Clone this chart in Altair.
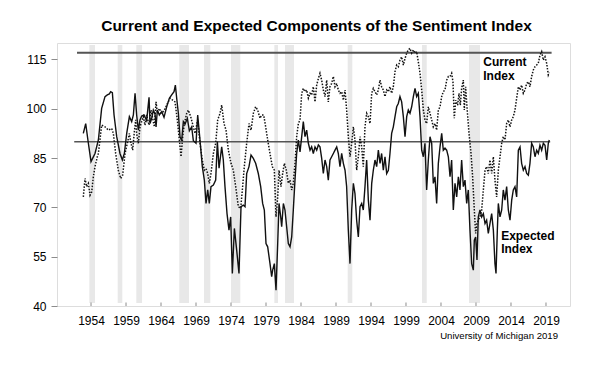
import altair as alt
import pandas as pd

# Expected Index (solid line)
exp_years = [1952.90, 1953.24, 1953.62, 1954.00, 1954.57, 1955.05, 1955.52, 1956.00, 1956.33, 1956.62,
             1956.81, 1957.05, 1957.29, 1957.67, 1958.14, 1958.48, 1958.76, 1959.10, 1959.48, 1959.81,
             1960.05, 1960.29, 1960.52, 1960.76, 1961.00, 1961.24, 1961.57, 1961.95, 1962.29, 1962.43,
             1962.67, 1962.90, 1963.14, 1963.29, 1963.48, 1963.76, 1964.10, 1964.43, 1964.81, 1965.19,
             1965.52, 1965.86, 1966.05, 1966.24, 1966.48, 1966.71, 1966.95, 1967.19, 1967.43, 1967.76,
             1968.05, 1968.38, 1968.62, 1969.00, 1969.24, 1969.57, 1969.90, 1970.19, 1970.43, 1970.67,
             1970.90, 1971.14, 1971.48, 1971.81, 1972.05, 1972.29, 1972.67, 1972.90, 1973.14, 1973.43,
             1973.71, 1973.95, 1974.19, 1974.48, 1974.81, 1975.14, 1975.43, 1975.76, 1976.00, 1976.24,
             1976.57, 1976.86, 1977.19, 1977.52, 1977.90, 1978.24, 1978.52, 1978.76, 1979.00, 1979.24,
             1979.57, 1979.81, 1979.95, 1980.19, 1980.43, 1980.67, 1980.86, 1981.10, 1981.24, 1981.48,
             1981.71, 1981.95, 1982.19, 1982.43, 1982.67, 1982.90, 1983.14, 1983.38, 1983.62, 1983.86,
             1984.10, 1984.33, 1984.57, 1984.81, 1985.05, 1985.29, 1985.52, 1985.76, 1986.00, 1986.24,
             1986.48, 1986.71, 1986.95, 1987.19, 1987.43, 1987.67, 1987.90, 1988.14, 1988.38, 1988.62,
             1988.86, 1989.10, 1989.33, 1989.57, 1989.81, 1990.05, 1990.29, 1990.52, 1990.76, 1991.00,
             1991.24, 1991.48, 1991.71, 1991.95, 1992.19, 1992.43, 1992.67, 1992.90, 1993.14, 1993.38,
             1993.62, 1993.86, 1994.10, 1994.33, 1994.57, 1994.81, 1995.05, 1995.29, 1995.52, 1995.76,
             1996.00, 1996.24, 1996.48, 1996.71, 1996.95, 1997.19, 1997.43, 1997.67, 1997.90, 1998.14,
             1998.38, 1998.62, 1998.86, 1999.10, 1999.33, 1999.57, 1999.81, 2000.05, 2000.29, 2000.52,
             2000.76, 2001.00, 2001.24, 2001.48, 2001.71, 2001.95, 2002.19, 2002.43, 2002.67, 2002.90,
             2003.14, 2003.38, 2003.62, 2003.86, 2004.10, 2004.33, 2004.57, 2004.81, 2005.05, 2005.29,
             2005.52, 2005.76, 2006.00, 2006.24, 2006.48, 2006.71, 2006.95, 2007.19, 2007.43, 2007.67,
             2007.90, 2008.14, 2008.38, 2008.62, 2008.76, 2008.95, 2009.14, 2009.33, 2009.57, 2009.81,
             2010.05, 2010.29, 2010.52, 2010.76, 2011.00, 2011.24, 2011.48, 2011.71, 2011.86, 2012.05,
             2012.19, 2012.43, 2012.67, 2012.90, 2013.14, 2013.38, 2013.62, 2013.86, 2014.10, 2014.33,
             2014.57, 2014.81, 2015.05, 2015.29, 2015.52, 2015.76, 2016.00, 2016.24, 2016.48, 2016.71,
             2016.95, 2017.19, 2017.43, 2017.67, 2017.90, 2018.14, 2018.38, 2018.62, 2018.86, 2019.10,
             2019.33, 2019.47]
exp_vals = [92.5, 95.5, 89.5, 83.9, 86.4, 90.5, 100.1, 103.7, 104.2, 104.5,
            105.2, 104.9, 98.1, 91.5, 86.4, 84.4, 86.4, 92.5, 97.6, 96.1,
            98.1, 104.7, 98.1, 93.5, 96.6, 97.8, 98.1, 96.4, 103.5, 95.5,
            97.1, 99.6, 98.4, 94.5, 99.6, 98.1, 99.1, 97.4, 100.6, 103.2,
            104.2, 105.2, 107.2, 103.2, 98.6, 91.5, 90.3, 96.1, 95.3, 97.1,
            93.3, 94.5, 90.3, 89.5, 98.1, 90.5, 82.4, 78.3, 71.2, 75.3,
            71.2, 76.3, 76.8, 78.3, 90.0, 81.9, 88.4, 84.4, 76.3, 68.1,
            63.1, 67.1, 49.9, 63.6, 57.0, 49.9, 70.2, 70.7, 70.2, 80.3,
            82.4, 85.9, 84.9, 83.4, 80.3, 76.3, 71.2, 69.2, 59.0, 58.0,
            52.9, 48.9, 50.9, 52.9, 44.8, 59.0, 71.2, 67.1, 64.1, 71.2,
            69.2, 64.1, 59.0, 58.0, 61.0, 69.2, 78.3, 86.4, 90.5, 86.9,
            91.5, 96.1, 91.5, 93.5, 89.5, 87.4, 88.4, 86.4, 88.4, 87.4,
            89.0, 88.4, 85.0, 80.3, 84.4, 82.4, 78.3, 84.4, 85.4, 86.4,
            87.4, 88.4, 86.4, 82.4, 86.4, 83.4, 81.3, 76.3, 63.1, 52.9,
            69.2, 77.3, 74.2, 66.1, 61.0, 70.2, 71.2, 69.2, 76.3, 84.4,
            72.2, 66.1, 77.3, 81.3, 84.4, 82.4, 87.4, 83.4, 86.4, 81.3,
            85.4, 80.3, 81.3, 86.4, 92.5, 94.5, 97.6, 100.6, 101.6, 103.7,
            102.1, 97.6, 91.5, 97.6, 99.6, 98.6, 100.6, 103.7, 106.2, 103.7,
            104.7, 97.6, 87.4, 85.4, 89.5, 75.3, 84.4, 91.5, 89.5, 77.3,
            79.3, 71.2, 83.4, 88.4, 92.5, 87.4, 88.0, 87.4, 85.4, 79.3,
            84.4, 69.2, 77.3, 73.2, 79.3, 75.3, 84.4, 76.3, 78.3, 71.2,
            75.3, 63.1, 52.9, 50.9, 60.0, 61.0, 54.0, 67.1, 69.2, 67.1,
            68.1, 65.1, 66.1, 62.1, 65.1, 68.1, 63.1, 52.9, 49.9, 63.1,
            71.2, 67.1, 69.2, 75.3, 72.2, 76.3, 69.2, 66.1, 72.2, 75.3,
            76.3, 73.2, 87.4, 88.4, 83.4, 81.3, 82.4, 80.3, 79.8, 83.4,
            89.5, 88.4, 85.4, 87.4, 86.4, 88.9, 87.4, 89.5, 88.9, 84.4,
            89.5, 90.5]

# Current Index (dotted line)
cur_years = [1952.90, 1953.14, 1953.38, 1953.62, 1953.86, 1954.10, 1954.33, 1954.57, 1954.90, 1955.05,
             1955.52, 1956.00, 1956.48, 1956.95, 1957.19, 1957.52, 1957.90, 1958.24, 1958.52, 1958.86,
             1959.19, 1959.48, 1959.71, 1959.95, 1960.19, 1960.38, 1960.52, 1960.76, 1961.00, 1961.24,
             1961.48, 1961.71, 1961.95, 1962.29, 1962.57, 1962.81, 1963.05, 1963.29, 1963.48, 1963.76,
             1964.10, 1964.48, 1964.81, 1965.29, 1965.67, 1966.00, 1966.33, 1966.62, 1966.86, 1967.10,
             1967.33, 1967.67, 1967.90, 1968.24, 1968.62, 1968.86, 1969.24, 1969.57, 1969.90, 1970.19,
             1970.43, 1970.67, 1970.90, 1971.14, 1971.48, 1971.81, 1972.10, 1972.43, 1972.67, 1973.00,
             1973.29, 1973.62, 1974.00, 1974.33, 1974.67, 1975.05, 1975.38, 1975.62, 1975.90, 1976.24,
             1976.57, 1976.86, 1977.19, 1977.52, 1977.81, 1978.14, 1978.38, 1978.67, 1978.95, 1979.24,
             1979.57, 1979.90, 1980.19, 1980.43, 1980.67, 1980.86, 1981.14, 1981.38, 1981.62, 1981.90,
             1982.19, 1982.43, 1982.67, 1982.90, 1983.14, 1983.38, 1983.62, 1983.86, 1984.10, 1984.33,
             1984.57, 1984.81, 1985.05, 1985.29, 1985.52, 1985.76, 1986.00, 1986.24, 1986.48, 1986.71,
             1986.95, 1987.19, 1987.43, 1987.67, 1987.90, 1988.14, 1988.38, 1988.62, 1988.86, 1989.10,
             1989.33, 1989.57, 1989.81, 1990.05, 1990.29, 1990.52, 1990.76, 1991.00, 1991.24, 1991.48,
             1991.71, 1991.95, 1992.19, 1992.43, 1992.67, 1992.90, 1993.14, 1993.38, 1993.62, 1993.86,
             1994.10, 1994.33, 1994.57, 1994.81, 1995.05, 1995.29, 1995.52, 1995.76, 1996.00, 1996.24,
             1996.48, 1996.71, 1996.95, 1997.19, 1997.43, 1997.67, 1997.90, 1998.14, 1998.38, 1998.62,
             1998.86, 1999.10, 1999.33, 1999.57, 1999.81, 2000.05, 2000.29, 2000.52, 2000.76, 2001.00,
             2001.24, 2001.48, 2001.71, 2001.95, 2002.19, 2002.43, 2002.67, 2002.90, 2003.14, 2003.38,
             2003.62, 2003.86, 2004.10, 2004.33, 2004.57, 2004.81, 2005.05, 2005.29, 2005.52, 2005.71,
             2005.90, 2006.10, 2006.38, 2006.57, 2006.76, 2006.95, 2007.19, 2007.33, 2007.52, 2007.71,
             2008.00, 2008.29, 2008.52, 2008.76, 2008.95, 2009.14, 2009.33, 2009.57, 2009.81, 2010.05,
             2010.29, 2010.52, 2010.76, 2011.00, 2011.24, 2011.48, 2011.71, 2011.95, 2012.19, 2012.43,
             2012.67, 2012.90, 2013.14, 2013.38, 2013.62, 2013.86, 2014.10, 2014.33, 2014.57, 2014.81,
             2015.05, 2015.29, 2015.52, 2015.76, 2016.00, 2016.24, 2016.48, 2016.71, 2016.95, 2017.19,
             2017.43, 2017.67, 2017.90, 2018.14, 2018.38, 2018.62, 2018.86, 2019.10, 2019.33, 2019.47]
cur_vals = [73.2, 78.8, 76.3, 77.3, 73.7, 74.7, 79.3, 82.4, 85.4, 86.4,
            95.0, 94.5, 93.5, 94.0, 92.5, 86.4, 81.3, 78.8, 79.8, 86.4,
            89.5, 92.5, 89.5, 87.4, 93.0, 96.6, 92.5, 89.5, 94.5, 96.1,
            97.6, 95.0, 98.1, 95.0, 99.6, 97.1, 94.5, 102.1, 98.6, 100.1,
            98.6, 99.6, 101.1, 103.2, 102.6, 102.1, 96.6, 90.5, 85.4, 91.5,
            95.5, 98.6, 99.6, 97.6, 94.5, 92.5, 96.6, 89.5, 84.4, 81.3,
            81.8, 80.3, 77.3, 80.3, 86.4, 89.5, 96.6, 98.6, 101.1, 95.5,
            93.5, 87.4, 83.4, 81.3, 76.3, 70.2, 69.7, 75.3, 82.4, 89.5,
            95.5, 93.5, 98.6, 100.6, 99.6, 97.1, 98.1, 98.1, 94.5, 90.5,
            86.4, 82.4, 81.3, 67.1, 73.2, 81.3, 76.3, 80.3, 83.4, 81.3,
            77.3, 78.3, 75.3, 77.3, 83.4, 91.5, 95.5, 96.6, 104.7, 106.2,
            105.2, 105.7, 103.2, 104.7, 104.2, 106.7, 102.1, 107.2, 109.2, 110.8,
            108.7, 105.7, 103.7, 108.7, 102.1, 106.7, 107.7, 109.8, 106.7, 107.7,
            105.7, 104.7, 105.2, 102.6, 105.7, 99.6, 91.5, 85.4, 89.5, 94.5,
            90.5, 81.3, 85.4, 91.5, 88.4, 82.4, 94.5, 98.6, 97.6, 95.5,
            104.7, 106.2, 105.2, 104.2, 105.7, 108.7, 106.7, 105.7, 103.7, 105.7,
            105.2, 106.7, 104.7, 106.7, 111.3, 113.3, 112.8, 114.8, 115.8, 113.3,
            115.3, 116.9, 117.9, 118.4, 116.9, 117.9, 116.9, 117.4, 114.3, 110.8,
            105.7, 99.6, 96.6, 95.5, 100.6, 98.6, 96.6, 94.5, 95.5, 93.5,
            99.6, 100.6, 103.7, 105.2, 105.7, 108.7, 109.8, 109.8, 110.8, 108.2,
            97.1, 102.6, 101.1, 104.7, 101.1, 106.2, 108.7, 99.6, 106.7, 100.6,
            92.5, 86.4, 79.3, 69.2, 62.1, 65.1, 66.1, 67.1, 69.2, 75.3,
            81.3, 82.4, 80.3, 84.4, 80.3, 85.4, 78.3, 73.2, 81.3, 85.4,
            89.5, 91.5, 90.5, 95.5, 96.6, 94.5, 96.6, 97.6, 99.6, 103.2,
            106.7, 105.7, 107.2, 104.7, 105.7, 107.7, 108.2, 106.7, 109.8, 111.8,
            112.8, 113.3, 113.8, 116.3, 117.4, 114.8, 115.8, 113.8, 110.3, 111.0]

# Recession shading (start / end, in years)
rec_start = [1953.76, 1957.81, 1960.47, 1966.61, 1970.14, 1974.00, 1980.19, 1981.71, 1990.67, 2001.29, 2008.00]
rec_end = [1954.57, 1958.47, 1961.29, 1968.00, 1971.04, 1975.33, 1980.71, 1983.00, 1991.33, 2001.96, 2009.57]

# Horizontal reference lines
ref_levels = [117, 90]
ref_start = [1952.0, 1951.6]
ref_end = [2019.8, 2019.6]

x_ticks = [1954, 1959, 1964, 1969, 1974, 1979, 1984, 1989, 1994, 1999, 2004, 2009, 2014, 2019]
y_ticks = [40, 55, 70, 85, 100, 115]

label_text = ["Current", "Index", "Expected", "Index"]
label_x = [2010.04, 2010.04, 2012.6, 2012.6]
label_y = [112.9, 108.6, 60.2, 56.0]

FONT = "Liberation Sans"
GRAY = "#8c8c8c"

exp_df = pd.DataFrame({"year": exp_years, "value": exp_vals})
cur_df = pd.DataFrame({"year": cur_years, "value": cur_vals})
rec_df = pd.DataFrame({"start": rec_start, "end": rec_end})
ref_df = pd.DataFrame({"level": ref_levels, "start": ref_start, "end": ref_end})
tick_df = pd.DataFrame({"year": x_ticks})
lab_df = pd.DataFrame({"text": label_text, "x": label_x, "y": label_y})

xscale = alt.Scale(domain=[1949.14, 2022.43], nice=False, zero=False)
yscale = alt.Scale(domain=[40, 120], nice=False, zero=False)

xaxis = alt.Axis(values=x_ticks, format="d", tickSize=0, labelPadding=9, domain=False, grid=False,
                 labelFontSize=12, labelFont=FONT, labelColor="#000", title=None, labelFlush=False)
yaxis = alt.Axis(values=y_ticks, tickSize=6, tickColor=GRAY, tickWidth=1, labelPadding=5, domain=False,
                 grid=False, labelFontSize=12, labelFont=FONT, labelColor="#000", title=None)


def X(field):
    return alt.X(field, type="quantitative", scale=xscale, axis=xaxis)


def Y(field):
    return alt.Y(field, type="quantitative", scale=yscale, axis=yaxis)


bands = alt.Chart(rec_df).mark_rect(color="#e8e8e8").encode(
    x=X("start"), x2="end", y=alt.value(2), y2=alt.value(260)
)

ref_top = alt.Chart(ref_df.iloc[[0]]).mark_rule(color="#555555", strokeWidth=2).encode(
    x=X("start"), x2="end", y=Y("level")
)
ref_mid = alt.Chart(ref_df.iloc[[1]]).mark_rule(color="#555555", strokeWidth=1.5).encode(
    x=X("start"), x2="end", y=Y("level")
)

cur_line = alt.Chart(cur_df).mark_line(color="#111111", strokeWidth=1.5, strokeDash=[1.5, 1.5]).encode(
    x=X("year"), y=Y("value")
)
exp_line = alt.Chart(exp_df).mark_line(color="#111111", strokeWidth=1.4).encode(
    x=X("year"), y=Y("value")
)

xticks_in = alt.Chart(tick_df).mark_rule(color=GRAY, strokeWidth=1).encode(
    x=X("year"), y=alt.value(263), y2=alt.value(259.5)
)

labels = alt.Chart(lab_df).mark_text(
    align="left", baseline="alphabetic", font=FONT, fontSize=12, fontWeight="bold", color="#000"
).encode(x=X("x"), y=Y("y"), text="text")

source = alt.Chart(pd.DataFrame({"t": ["University of Michigan 2019"]})).mark_text(
    align="right", baseline="alphabetic", font=FONT, fontSize=9.6, color="#000"
).encode(x=alt.value(501), y=alt.value(295.6), text="t")

chart = alt.layer(bands, ref_top, ref_mid, cur_line, exp_line, xticks_in, labels, source).properties(
    width=513,
    height=263,
    autosize=alt.AutoSizeParams(type="none"),
    padding={"left": 49, "top": 35, "right": 38, "bottom": 70},
    title=alt.TitleParams(
        "Current and Expected Components of the Sentiment Index",
        font=FONT, fontSize=15.5, fontWeight="bold", color="#000", anchor="middle",
        baseline="alphabetic", offset=12, dx=3, dy=15, frame="group"
    ),
).configure_view(stroke=GRAY, strokeWidth=1.5).configure(background="white")

chart.save("out.html", embed_options={"renderer": "svg", "actions": False})
